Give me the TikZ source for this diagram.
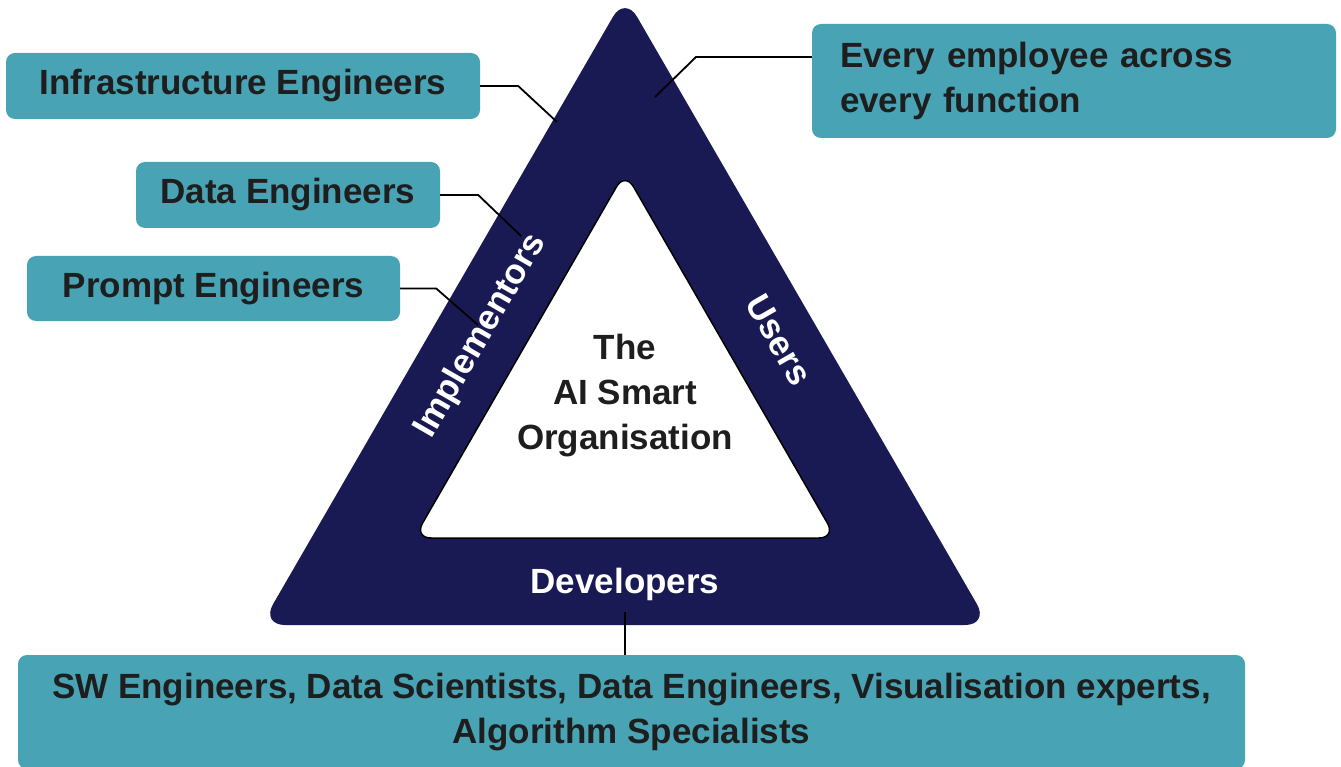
\documentclass[tikz,border=0pt]{standalone}
\usepackage{fontspec}
\setmainfont{Liberation Sans}
\usetikzlibrary{positioning}
\definecolor{navyband}{HTML}{191A54}
\definecolor{tealbox}{HTML}{48A3B5}
\definecolor{ink}{HTML}{1E1E1E}
\newcommand{\bigfont}{\bfseries\fontsize{35}{45}\selectfont}

\tikzset{
  rolebox/.style={fill=tealbox, rounded corners=9pt, text=ink, font=\bigfont, inner sep=0pt},
  lead/.style={draw=black, line width=1.8pt},
  sidelabel/.style={text=white, font=\bigfont, inner sep=0pt}
}

\begin{document}
\begin{tikzpicture}[x=1pt, y=-1pt]
    \useasboundingbox (0,0) rectangle (1341,767);
    \clip (0,0) rectangle (1341,767);

    % the two triangles
    \fill[navyband, rounded corners=24pt] (625,-4) -- (989,625) -- (261,625) -- cycle;
    \draw[fill=white, line width=1.5pt, rounded corners=17pt] (625,172) -- (836,538) -- (414,538) -- cycle;

    \node[sidelabel, rotate=60] (impl) at (481,336) {Implementors};
    \node[sidelabel, rotate=-60] (users) at (779,340) {Users};
    \node[sidelabel] (dev) at (625,584) {Developers};
    \node[text=ink, font=\bigfont, align=center, inner sep=0pt] (core) at (625,396) {The\\AI Smart\\Organisation};

    % boxes
    \node[rolebox, minimum width=474, minimum height=66] (infra) at (243,86) {Infrastructure Engineers};
    \node[rolebox, minimum width=304, minimum height=66] (data) at (288,195) {Data Engineers};
    \node[rolebox, minimum width=373, minimum height=65] (prompt) at (213.5,288.5) {Prompt Engineers};
    \node[rolebox, minimum height=114, text width=468, inner xsep=28pt, align=left] (every) at (1074,81)
        {Every employee across\\every function};
    \node[rolebox, minimum width=1227, minimum height=114, align=center] (team) at (631.5,712)
        {SW Engineers, Data Scientists, Data Engineers, Visualisation experts,\\Algorithm Specialists};

    % leader lines
    \coordinate (infraend) at (557,122);
    \coordinate (dataend) at (521,236);
    \coordinate (promptend) at (478,325);
    \coordinate (everyend) at (655,97);
    \coordinate (devend) at (625,612);

    \draw[lead] (infra.east) -- ++(38,0) -- (infraend);
    \draw[lead] (data.east) -- ++(38,0) -- (dataend);
    \draw[lead] (prompt.east) -- ++(36,0) -- (promptend);
    \draw[lead] (every.west |- 0,57) -- (696,57) -- (everyend);
    \draw[lead] (devend) -- (devend |- team.north);
\end{tikzpicture}
\end{document}
